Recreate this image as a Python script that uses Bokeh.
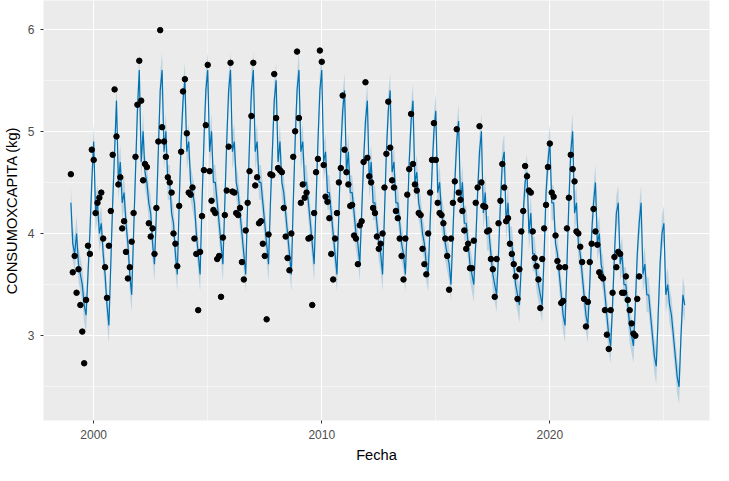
from bokeh.plotting import figure
from bokeh.models import FixedTicker, ColumnDataSource
from bokeh.embed import file_html
from bokeh.resources import INLINE

years = list(range(1999, 2026))

# fitted monthly values (Jan..Dec) per year
fit = [
    [4.3, 3.9, 3.8, 4.0, 3.7, 3.6, 3.5, 3.3, 3.2, 3.6, 4.0, 4.5],
    [4.9, 4.2, 4.3, 4.0, 4.1, 3.8, 3.6, 3.3, 3.1, 3.7, 4.3, 4.8],
    [5.3, 4.5, 4.7, 4.3, 4.4, 4.1, 3.9, 3.6, 3.4, 4.0, 4.6, 5.2],
    [5.6, 4.7, 5.0, 4.6, 4.5, 4.3, 4.2, 3.9, 3.7, 4.2, 4.8, 5.4],
    [5.6, 4.8, 5.0, 4.5, 4.5, 4.2, 4.1, 3.8, 3.6, 4.3, 4.9, 5.3],
    [5.5, 4.8, 4.9, 4.5, 4.4, 4.3, 4.0, 3.8, 3.6, 4.3, 4.9, 5.4],
    [5.6, 4.8, 5.0, 4.5, 4.5, 4.3, 4.1, 3.9, 3.7, 4.3, 4.9, 5.4],
    [5.6, 4.8, 4.9, 4.5, 4.4, 4.2, 4.0, 3.8, 3.6, 4.3, 4.9, 5.4],
    [5.6, 4.8, 4.9, 4.5, 4.5, 4.3, 4.1, 3.9, 3.7, 4.3, 4.8, 5.3],
    [5.5, 4.7, 4.9, 4.5, 4.4, 4.2, 4.0, 3.8, 3.6, 4.3, 4.9, 5.4],
    [5.6, 4.8, 4.9, 4.5, 4.5, 4.3, 4.1, 3.9, 3.7, 4.3, 4.9, 5.4],
    [5.6, 4.7, 4.8, 4.4, 4.4, 4.2, 4.0, 3.8, 3.6, 4.2, 4.8, 5.2],
    [5.4, 4.6, 4.8, 4.4, 4.4, 4.2, 4.0, 3.9, 3.7, 4.2, 4.7, 5.1],
    [5.3, 4.5, 4.7, 4.3, 4.3, 4.1, 3.9, 3.8, 3.6, 4.2, 4.8, 5.2],
    [5.4, 4.6, 4.7, 4.3, 4.3, 4.1, 3.9, 3.8, 3.6, 4.1, 4.7, 5.1],
    [5.3, 4.5, 4.6, 4.3, 4.2, 4.0, 3.9, 3.7, 3.6, 4.1, 4.6, 5.0],
    [5.2, 4.4, 4.5, 4.2, 4.1, 3.9, 3.8, 3.7, 3.5, 4.0, 4.5, 4.9],
    [5.1, 4.3, 4.5, 4.1, 4.1, 3.9, 3.7, 3.6, 3.5, 3.9, 4.4, 4.8],
    [5.0, 4.2, 4.4, 4.0, 4.0, 3.8, 3.6, 3.5, 3.4, 3.8, 4.3, 4.7],
    [4.8, 4.1, 4.3, 3.9, 3.9, 3.7, 3.5, 3.4, 3.3, 3.7, 4.2, 4.5],
    [4.6, 4.0, 4.2, 3.8, 3.8, 3.6, 3.5, 3.4, 3.3, 3.8, 4.4, 4.7],
    [4.9, 4.3, 4.3, 3.9, 3.8, 3.6, 3.4, 3.2, 3.1, 3.7, 4.3, 4.8],
    [5.0, 4.2, 4.3, 3.9, 3.8, 3.6, 3.4, 3.2, 3.1, 3.5, 4.0, 4.3],
    [4.5, 3.9, 4.0, 3.7, 3.6, 3.4, 3.2, 3.0, 2.9, 3.3, 3.8, 4.2],
    [4.3, 3.7, 3.8, 3.5, 3.5, 3.3, 3.1, 3.0, 2.9, 3.3, 3.8, 4.1],
    [4.3, 3.6, 3.7, 3.4, 3.4, 3.2, 3.0, 2.8, 2.7, 3.2, 3.7, 4.0],
    [4.1, 3.4, 3.5, 3.3, 3.2, 3.0, 2.8, 2.6, 2.5, 3.0, 3.4, 3.3],
]
band = 0.17

obs_years = list(range(1999, 2024))
observed = [
    [4.58, 3.62, 3.78, 3.42, 3.65, 3.30, 3.04, 2.73, 3.35, 3.88, 3.80, 4.82],
    [4.72, 4.20, 4.30, 4.35, 4.40, 3.95, 3.67, 3.37, 3.88, 4.22, 4.77, 5.41],
    [4.95, 4.48, 4.55, 4.05, 4.12, 3.82, 3.56, 3.67, 3.92, 4.20, 4.75, 5.26],
    [5.69, 5.30, 4.52, 4.68, 4.65, 4.10, 3.97, 4.05, 3.80, 4.25, 4.90, 5.99],
    [5.04, 4.90, 4.75, 4.55, 4.50, 4.40, 4.00, 3.90, 3.68, 4.27, 4.80, 5.39],
    [5.51, 4.98, 4.40, 4.38, 4.45, 3.95, 3.80, 3.25, 3.82, 4.17, 4.62, 5.06],
    [5.65, 4.61, 4.32, 4.23, 4.20, 3.75, 3.78, 3.38, 3.96, 4.18, 4.42, 4.85],
    [5.67, 4.41, 4.40, 4.20, 4.18, 4.25, 3.72, 3.55, 4.03, 4.30, 4.61, 5.15],
    [5.67, 4.47, 4.55, 4.10, 4.12, 3.90, 3.78, 3.16, 3.99, 4.58, 4.57, 5.56],
    [5.13, 4.64, 4.62, 4.60, 4.25, 3.97, 3.76, 3.64, 4.00, 4.75, 5.00, 5.78],
    [5.13, 4.30, 4.48, 4.35, 4.40, 3.95, 3.96, 3.30, 4.20, 4.60, 4.73, 5.79],
    [5.68, 4.67, 4.36, 4.31, 4.15, 3.80, 3.55, 3.95, 4.20, 4.50, 4.64, 5.35],
    [4.82, 4.60, 4.48, 4.27, 4.28, 3.98, 3.95, 3.70, 4.08, 4.12, 4.70, 5.48],
    [4.74, 4.56, 4.50, 4.25, 4.20, 3.97, 3.85, 3.90, 4.00, 4.45, 4.78, 5.29],
    [4.84, 4.52, 4.45, 4.22, 4.15, 3.95, 3.78, 3.55, 3.95, 4.38, 4.63, 5.17],
    [4.68, 4.48, 4.42, 4.20, 4.18, 3.85, 3.70, 3.60, 4.00, 4.40, 4.72, 5.08],
    [4.72, 4.30, 4.20, 4.18, 4.10, 3.95, 3.78, 3.45, 3.95, 4.30, 4.51, 5.02],
    [4.40, 4.33, 4.22, 4.03, 3.85, 3.90, 3.66, 3.66, 3.93, 4.30, 4.45, 5.05],
    [4.50, 4.27, 4.26, 4.02, 4.03, 3.75, 3.65, 3.38, 3.75, 4.10, 4.32, 4.68],
    [4.45, 4.12, 4.15, 3.90, 3.80, 3.70, 3.58, 3.36, 3.65, 4.02, 4.22, 4.66],
    [4.56, 4.42, 4.40, 4.02, 3.76, 3.68, 3.55, 3.27, 3.75, 4.05, 4.28, 4.65],
    [4.88, 4.40, 4.36, 3.98, 3.73, 3.67, 3.32, 3.34, 3.67, 4.05, 4.35, 4.77],
    [4.63, 4.51, 4.02, 4.00, 3.87, 3.72, 3.36, 3.09, 3.33, 3.72, 3.90, 4.24],
    [4.02, 3.89, 3.62, 3.58, 3.56, 3.25, 3.01, 2.87, 3.25, 3.42, 3.77, 3.67],
    [3.82, 3.80, 3.42, 3.42, 3.58, 3.35, 3.25, 3.12, 3.02, 3.00, 3.36, 3.58],
]

fx, fy = [], []
for y, row in zip(years, fit):
    for m, v in enumerate(row):
        fx.append(y + m / 12)
        fy.append(v)
ox, oy = [], []
for y, row in zip(obs_years, observed):
    for m, v in enumerate(row):
        ox.append(y + m / 12)
        oy.append(v)

src = ColumnDataSource(dict(x=fx, y=fy, lo=[v - band for v in fy], hi=[v + band for v in fy]))

p = figure(width=713, height=465, output_backend="svg", toolbar_location=None,
           x_range=(1997.8, 2027.0), y_range=(2.17, 6.28))
p.background_fill_color = "#EBEBEB"
p.border_fill_color = "white"
p.outline_line_color = None
p.min_border_left = 10
p.min_border_right = 4
p.min_border_top = 0
p.min_border_bottom = 0

p.varea(x="x", y1="lo", y2="hi", source=src, fill_color="#A6C8DC", fill_alpha=0.7)
p.line(x="x", y="y", source=src, line_color="#0072B2", line_width=1.2)
p.scatter(ox, oy, size=5.5, color="black")

p.xaxis.ticker = FixedTicker(ticks=[2000, 2010, 2020], minor_ticks=[1995, 2005, 2015, 2025])
p.yaxis.ticker = FixedTicker(ticks=[3, 4, 5, 6], minor_ticks=[2.5, 3.5, 4.5, 5.5])
for ax in (p.xaxis, p.yaxis):
    ax.axis_line_color = None
    ax.major_tick_line_color = "#333333"
    ax.major_tick_out = 3
    ax.major_tick_in = 0
    ax.minor_tick_line_color = None
    ax.major_label_text_color = "#4D4D4D"
    ax.major_label_text_font_size = "9pt"
    ax.axis_label_text_font_style = "normal"
    ax.axis_label_text_font_size = "11pt"
    ax.axis_label_text_color = "black"
p.xaxis.axis_label = "Fecha"
p.yaxis.axis_label = "CONSUMOXCAPITA (kg)"
p.grid.grid_line_color = "white"
p.grid.grid_line_width = 1.1
p.grid.minor_grid_line_color = "white"
p.grid.minor_grid_line_width = 0.5

open("out.html", "w").write(file_html(p, INLINE))
